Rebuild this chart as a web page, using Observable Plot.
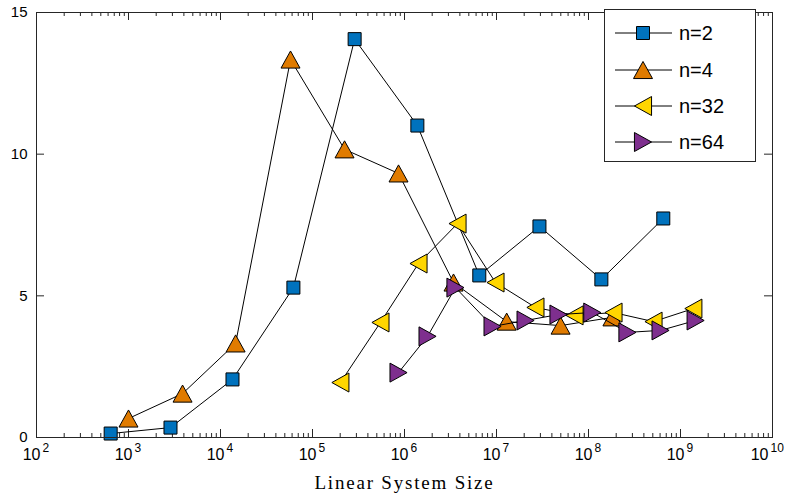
<!DOCTYPE html>
<html>
<head>
<meta charset="utf-8">
<script src="https://cdn.jsdelivr.net/npm/d3@7"></script>
<script src="https://cdn.jsdelivr.net/npm/@observablehq/plot@0.6"></script>
<style>
  html, body { margin: 0; padding: 0; background: #fff; }
  #wrap { position: relative; width: 789px; height: 503px; }
  #legend { position: absolute; left: 604px; top: 9px; width: 150px; height: 151px;
    border: 1px solid #262626; background: #fff; box-sizing: content-box; }
  .row { position: absolute; left: 0; height: 30px; width: 150px; }
  .row svg { position: absolute; left: 0; top: 0; }
  .row span { position: absolute; left: 74px; top: 1px; font: 20px "Liberation Sans", Arial, sans-serif; color: #000; line-height: 28px; }
</style>
</head>
<body>
<div id="wrap"><div id="chart"></div><div id="legend"></div></div>
<script>
// ---- data ----
const seriesNames = ["n=2", "n=4", "n=32", "n=64"];
const sizesN2  = [640, 2860, 13500, 62000, 287000, 1.38e6, 6.5e6, 2.93e7, 1.38e8, 6.5e8];
const valuesN2 = [0.14, 0.35, 2.05, 5.29, 14.06, 11.01, 5.72, 7.45, 5.58, 7.73];
const sizesN4  = [1000, 3870, 14600, 57700, 223000, 861000, 3.41e6, 1.29e7, 4.97e7, 1.82e8];
const valuesN4 = [0.67, 1.55, 3.32, 13.34, 10.17, 9.32, 5.47, 4.09, 3.95, 4.24];
const sizesN32  = [201000, 548000, 1.42e6, 3.77e6, 9.75e6, 2.65e7, 7.05e7, 1.87e8, 5.09e8, 1.38e9];
const valuesN32 = [1.94, 4.06, 6.14, 7.55, 5.47, 4.59, 4.31, 4.41, 4.09, 4.55];
const sizesN64  = [861000, 1.78e6, 3.58e6, 9.06e6, 2.07e7, 4.72e7, 1.1e8, 2.65e8, 6.07e8, 1.46e9];
const valuesN64 = [2.29, 3.57, 5.29, 3.92, 4.13, 4.34, 4.41, 3.71, 3.78, 4.13];
const xDecadeExponents = [2, 3, 4, 5, 6, 7, 8, 9, 10];
const yTickValues = [0, 5, 10, 15];
const xAxisTitle = "Linear System Size";

// ---- styles ----
const colors = ["#0072BD", "#E07B00", "#FFD600", "#7E2F8E"];
const W = 789, H = 503, mL = 36, mR = 17, mT = 12, mB = 66;
const frameH = H - mT - mB, frameW = W - mL - mR;
const axisColor = "#262626";
const sansFont = "'Liberation Sans', Arial, sans-serif";

// custom marker shapes (r = radius passed to dot)
const square = {draw(ctx, size) { const r = Math.sqrt(size / Math.PI);
  ctx.moveTo(-r, -r); ctx.lineTo(r, -r); ctx.lineTo(r, r); ctx.lineTo(-r, r); ctx.closePath(); }};
const triUp = {draw(ctx, size) { const r = Math.sqrt(size / Math.PI), h = r * 0.9;
  ctx.moveTo(0, -h); ctx.lineTo(r, h); ctx.lineTo(-r, h); ctx.closePath(); }};
const triLeft = {draw(ctx, size) { const r = Math.sqrt(size / Math.PI), h = r * 0.9;
  ctx.moveTo(-h, 0); ctx.lineTo(h, -r); ctx.lineTo(h, r); ctx.closePath(); }};
const triRight = {draw(ctx, size) { const r = Math.sqrt(size / Math.PI), h = r * 0.9;
  ctx.moveTo(h, 0); ctx.lineTo(-h, -r); ctx.lineTo(-h, r); ctx.closePath(); }};
const symbols = [square, triUp, triLeft, triRight];
const radii = [6.5, 9.5, 9.5, 9.5];

const seriesData = [
  [sizesN2, valuesN2], [sizesN4, valuesN4], [sizesN32, valuesN32], [sizesN64, valuesN64]
].map(([xs, ys], i) => xs.map((x, j) => ({x, y: ys[j], s: seriesNames[i]})));

const majors = xDecadeExponents.map(e => 10 ** e);
const majorsShort = majors.filter(d => Math.log10(d) < 9.5);
const majorsLong = majors.filter(d => Math.log10(d) >= 9.5);
const minors = [];
for (let e = 2; e < 10; e++) for (let m = 2; m <= 9; m++) minors.push(m * 10 ** e);

const seriesMarks = seriesData.flatMap((data, i) => [
  Plot.line(data, {x: "x", y: "y", stroke: "#000", strokeWidth: 1}),
  Plot.dot(data, {x: "x", y: "y", symbol: symbols[i], r: radii[i], fill: colors[i], stroke: "#000", strokeWidth: 1})
]);

const expText = d => String(Math.round(Math.log10(d)));
const labelMarks = (data, shift) => [
  Plot.text(data, {x: d => d, text: () => "10", frameAnchor: "bottom", textAnchor: "end",
    dx: 4 + shift, dy: 22, fontSize: 16, fill: "#000"}),
  Plot.text(data, {x: d => d, text: expText, frameAnchor: "bottom",
    textAnchor: "start", dx: 6 + shift, dy: 14, fontSize: 12, fill: "#000"})
];

const chart = Plot.plot({
  width: W, height: H,
  marginLeft: mL, marginRight: mR, marginTop: mT, marginBottom: mB,
  style: {fontFamily: sansFont, background: "#fff"},
  x: {type: "log", domain: [1e2, 1e10], axis: null},
  y: {domain: [0, 15], axis: null},
  marks: [
    // ticks (inward, on all four sides)
    Plot.ruleX(majors.slice(1, -1), {stroke: axisColor, insetTop: frameH - 8}),
    Plot.ruleX(majors.slice(1, -1), {stroke: axisColor, insetBottom: frameH - 8}),
    Plot.ruleX(minors, {stroke: axisColor, insetTop: frameH - 4}),
    Plot.ruleX(minors, {stroke: axisColor, insetBottom: frameH - 4}),
    Plot.ruleY(yTickValues.slice(1, -1), {stroke: axisColor, insetRight: frameW - 8}),
    Plot.ruleY(yTickValues.slice(1, -1), {stroke: axisColor, insetLeft: frameW - 8}),
    // y tick labels
    Plot.axisY(yTickValues, {tickSize: 0, tickPadding: 9, fontSize: 15, label: null, fill: "#000"}),
    // x tick labels: 10 with raised exponent
    ...labelMarks(majorsShort, 0),
    ...labelMarks(majorsLong, -8),
    // x axis title
    Plot.text([xAxisTitle], {frameAnchor: "bottom", dy: 51, fontSize: 19,
      fontFamily: "'Liberation Serif', 'Times New Roman', serif", fill: "#000"}),
    ...seriesMarks,
    Plot.frame({stroke: axisColor, strokeWidth: 1})
  ]
});
document.getElementById("chart").appendChild(chart);
chart.querySelectorAll("text").forEach(t => { if (t.textContent === xAxisTitle) t.setAttribute("letter-spacing", "1.8"); });

// ---- legend ----
const legend = document.getElementById("legend");
const rowCenters = [23, 60, 96, 132];
seriesNames.forEach((name, i) => {
  const row = document.createElement("div");
  row.className = "row";
  row.style.top = (rowCenters[i] - 15) + "px";
  const ns = "http://www.w3.org/2000/svg";
  const svg = document.createElementNS(ns, "svg");
  svg.setAttribute("width", 74); svg.setAttribute("height", 30);
  const line = document.createElementNS(ns, "line");
  line.setAttribute("x1", 10); line.setAttribute("x2", 67); line.setAttribute("y1", 15); line.setAttribute("y2", 15);
  line.setAttribute("stroke", "#000"); line.setAttribute("stroke-width", 1);
  svg.appendChild(line);
  const p = d3.path();
  symbols[i].draw(p, Math.PI * radii[i] * radii[i]);
  const path = document.createElementNS(ns, "path");
  path.setAttribute("d", p.toString());
  path.setAttribute("transform", "translate(38,15)");
  path.setAttribute("fill", colors[i]); path.setAttribute("stroke", "#000");
  svg.appendChild(path);
  row.appendChild(svg);
  const span = document.createElement("span");
  span.textContent = name;
  row.appendChild(span);
  legend.appendChild(row);
});
</script>
</body>
</html>
